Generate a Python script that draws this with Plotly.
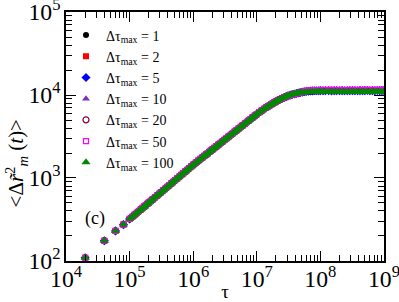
import plotly.graph_objects as go

# ---- data ----
tau_rise = [2e4, 4e4, 6e4, 8e4,
            1e5, 1.1e5, 1.2e5, 1.3e5, 1.4e5, 1.5e5, 1.6e5, 1.7e5, 1.8e5, 1.9e5,
            2e5, 2.15e5, 2.3e5, 2.5e5, 2.7e5, 2.9e5, 3.1e5, 3.35e5, 3.6e5, 3.9e5,
            4.2e5, 4.5e5, 4.8e5, 5.2e5, 5.6e5, 6e5, 6.5e5, 7e5, 7.5e5, 8e5, 8.6e5, 9.3e5,
            1e6, 1.1e6, 1.2e6, 1.3e6, 1.4e6, 1.5e6, 1.6e6, 1.7e6, 1.8e6, 1.9e6,
            2e6, 2.15e6, 2.3e6, 2.5e6, 2.7e6, 2.9e6, 3.1e6, 3.35e6, 3.6e6, 3.9e6,
            4.2e6, 4.5e6, 4.8e6, 5.2e6, 5.6e6, 6e6, 6.5e6, 7e6, 7.5e6, 8e6, 8.6e6, 9.3e6,
            1e7, 1.1e7, 1.2e7, 1.3e7, 1.4e7, 1.5e7, 1.6e7, 1.7e7, 1.8e7, 1.9e7,
            2e7, 2.15e7, 2.3e7, 2.5e7, 2.7e7, 2.9e7, 3.1e7, 3.35e7, 3.6e7, 3.9e7,
            4.2e7, 4.5e7, 4.8e7]
msd_rise = [109, 175, 230, 274,
            321, 341, 361, 381, 400, 418, 436, 454, 471, 488,
            505, 529, 553, 584, 614, 643, 672, 707, 741, 781,
            820, 858, 895, 943, 989, 1035, 1091, 1145, 1198, 1249, 1310, 1378,
            1445, 1531, 1616, 1696, 1775, 1851, 1925, 1998, 2069, 2139,
            2206, 2306, 2402, 2527, 2649, 2767, 2882, 3021, 3157, 3315,
            3468, 3618, 3762, 3954, 4135, 4313, 4529, 4738, 4942, 5140, 5370, 5634,
            5888, 6209, 6516, 6808, 7063, 7311, 7551, 7762, 7980, 8166,
            8356, 8610, 8831, 9120, 9354, 9572, 9772, 9977, 10139, 10304,
            10447, 10568, 10691]

tau_tail = [5.2e7, 5.6e7, 6e7, 6.5e7, 7e7, 7.5e7, 8e7, 8.6e7, 9.3e7,
            1e8, 1.1e8, 1.2e8, 1.35e8, 1.5e8, 1.65e8, 1.8e8, 2e8, 2.2e8, 2.4e8,
            2.65e8, 2.9e8, 3.2e8, 3.5e8, 3.85e8, 4.2e8, 4.6e8, 5e8, 5.5e8, 6e8,
            6.6e8, 7.2e8, 7.9e8, 8.6e8, 9.3e8, 1e9]
tail_1 = [10850, 10950, 11040, 11110, 11160, 11200, 11220, 11240, 11250,
          11240, 11270, 11260, 11230, 11280, 11250, 11220, 11260, 11240, 11210,
          11250, 11230, 11270, 11240, 11260, 11280, 11250, 11270, 11300, 11280,
          11250, 11270, 11290, 11260, 11280, 11300]
tail_2 = [10860, 10960, 11050, 11130, 11180, 11220, 11250, 11260, 11280,
          11250, 11290, 11270, 11240, 11300, 11260, 11280, 11230, 11270, 11290,
          11250, 11240, 11280, 11300, 11260, 11290, 11310, 11280, 11300, 11270,
          11290, 11260, 11300, 11280, 11310, 11290]
tail_5 = [10840, 10940, 11030, 11120, 11170, 11210, 11240, 11270, 11250,
          11300, 11240, 11280, 11260, 11230, 11290, 11250, 11270, 11300, 11240,
          11280, 11260, 11300, 11270, 11250, 11310, 11280, 11300, 11320, 11270,
          11300, 11280, 11320, 11290, 11310, 11330]
tail_10 = [10900, 11020, 11130, 11230, 11300, 11370, 11420, 11460, 11430,
           11520, 11480, 11560, 11450, 11530, 11490, 11600, 11470, 11520, 11450,
           11550, 11480, 11600, 11500, 11450, 11540, 11490, 11580, 11520, 11470,
           11560, 11500, 11540, 11480, 11570, 11530]
tail_20 = [10870, 10980, 11080, 11160, 11220, 11270, 11300, 11320, 11300,
           11350, 11310, 11340, 11360, 11300, 11330, 11370, 11320, 11350, 11300,
           11340, 11360, 11320, 11350, 11330, 11360, 11340, 11370, 11350, 11320,
           11360, 11340, 11370, 11350, 11380, 11360]
tail_50 = [10950, 11080, 11200, 11300, 11370, 11420, 11450, 11480, 11500,
           11470, 11520, 11490, 11510, 11540, 11480, 11500, 11530, 11470, 11500,
           11520, 11490, 11510, 11480, 11530, 11500, 11520, 11550, 11510, 11490,
           11530, 11510, 11540, 11500, 11530, 11520]
tail_100 = [10700, 10760, 10810, 10850, 10880, 10900, 10910, 10920, 10930,
            10920, 10950, 10930, 10900, 10940, 10910, 10880, 10900, 10870, 10850,
            10880, 10860, 10900, 10880, 10870, 10900, 10920, 10900, 10930, 10910,
            10940, 10950, 10930, 10960, 10970, 10980]

series_names = ["1", "2", "5", "10", "20", "50", "100"]
series_tails = [tail_1, tail_2, tail_5, tail_10, tail_20, tail_50, tail_100]

# ---- styles ----
colors = ["#000000", "#ff0000", "#0000ff", "#7b2fbf", "#800040", "#ff00ff", "#008800"]
symbols = ["circle", "square", "diamond", "triangle-up", "circle-open",
           "square-open", "triangle-up"]
sizes = [6, 6, 7, 7, 6, 5, 8]

FONT = "Liberation Serif, Times New Roman, serif"

fig = go.Figure()
tau_all = tau_rise + tau_tail
for name, tail, c, s, sz in zip(series_names, series_tails, colors, symbols, sizes):
    fig.add_trace(go.Scatter(
        x=tau_all, y=msd_rise + tail, mode="markers",
        name="Δτ<sub>max</sub> = " + name,
        marker=dict(color=c, symbol=s, size=sz,
                    line=dict(color=c, width=1.2 if "open" in s else 0)),
    ))

axis_common = dict(
    type="log", showline=True, linecolor="black", linewidth=1.5, mirror="ticks",
    ticks="inside", ticklen=10, tickwidth=1, tickcolor="black",
    showgrid=False, zeroline=False, dtick=1, exponentformat="power",
    tickfont=dict(family=FONT, size=19, color="black"),
    ticklabeloverflow="allow",
    minor=dict(ticks="inside", ticklen=6, tickwidth=1, tickcolor="black",
               dtick="D1", showgrid=False),
    automargin=False,
)

fig.update_layout(
    width=399, height=302,
    margin=dict(l=66, r=15, t=12, b=41),
    paper_bgcolor="white", plot_bgcolor="white",
    font=dict(family=FONT, color="black"),
    xaxis=dict(range=[3.999, 9.001], ticklabelstandoff=-3,
               title=dict(text="τ", font=dict(family=FONT, size=19), standoff=0),
               **axis_common),
    yaxis=dict(range=[1.999, 5.001], **axis_common),
    legend=dict(x=0.0, y=0.97, xanchor="left", yanchor="top",
                bgcolor="rgba(0,0,0,0)", font=dict(family=FONT, size=14),
                itemwidth=30, tracegroupgap=0),
    showlegend=True,
    annotations=[
        dict(text="(c)", x=0.055, y=0.17, xref="paper", yref="paper",
             xanchor="left", yanchor="middle",
             showarrow=False, font=dict(family=FONT, size=18)),
        dict(text="&lt;Δ<i>r̃</i><sup>2</sup><sub><i>m</i></sub> (<i>t</i>)&gt;",
             x=-0.157, y=0.392, xref="paper", yref="paper",
             xanchor="center", yanchor="middle", textangle=-90,
             showarrow=False, font=dict(family=FONT, size=21)),
    ],
)

fig.write_html("out.html", config={"displayModeBar": False},
               post_script="document.body.style.margin='0';")
